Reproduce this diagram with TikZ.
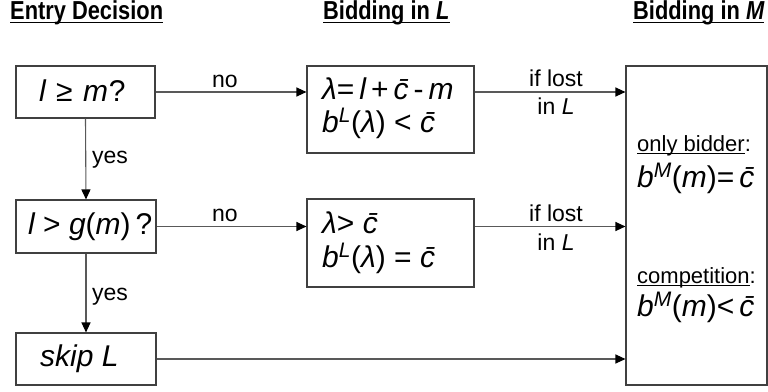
\documentclass[tikz,border=0pt]{standalone}
\usepackage{fontspec}
\setmainfont{Liberation Sans}
\newfontfamily\hdrfont[FakeStretch=0.84]{Liberation Sans}
\usetikzlibrary{arrows.meta}
\newcommand\cb{{\itshape\={c}}}
\newcommand\iv[1]{{\itshape #1}}
\newcommand\ulx[1]{\setbox0\hbox{#1}\rlap{\rule[-2.6pt]{\wd0}{1pt}}\box0}
\begin{document}
\begin{tikzpicture}[x=1pt,y=-1pt,
  box/.style={draw=black!75,line width=1.1pt,inner sep=0pt},
  conn/.style={draw=black!65,line width=1.1pt,-{Triangle[length=10pt,width=9pt,fill=black,color=black]}},
  body/.style={inner sep=0pt,font=\fontsize{30}{33}\selectfont},
  lab/.style={inner sep=0pt,font=\fontsize{23}{26}\selectfont},
  rlab/.style={inner sep=0pt,font=\fontsize{22}{25}\selectfont},
  hdr/.style={inner sep=0pt,anchor=base west,font=\hdrfont\bfseries\fontsize{26}{28}\selectfont},
  uline/.style={draw=black,line width=1.8pt}]
\path[use as bounding box] (0,0) rectangle (768,391);
% headers
\node[hdr] (h1) at (10,19) {Entry Decision};
\node[hdr] (h2) at (323,19) {Bidding in \iv{L}};
\node[hdr] (h3) at (633,19) {Bidding in \iv{M}};
\foreach \h in {h1,h2,h3}{\draw[uline] ([yshift=-3.5pt]\h.base west) -- ([yshift=-3.5pt]\h.base east);}
% boxes
\node[box,minimum width=139pt,minimum height=52pt] (b1) at (85.5,92) {};
\node[box,minimum width=140pt,minimum height=53pt] (b2) at (86,226.5) {};
\node[box,minimum width=140pt,minimum height=52pt] (b3) at (86,359) {};
\node[box,minimum width=167pt,minimum height=87pt] (bA) at (390.5,109.5) {};
\node[box,minimum width=167pt,minimum height=88pt] (bB) at (390.5,243) {};
\node[box,minimum width=141pt,minimum height=319pt] (R) at (696.5,225.5) {};
% box texts
\node[body,anchor=base west] (t1) at (39,101) {\iv{l}\kern2pt{} ≥\kern2pt{} \iv{m}\kern1pt?};
\node[body,anchor=base west] (t2) at (28,234) {\iv{l} > \iv{g}(\iv{m})\,?};
\node[body,anchor=base west] (t3) at (40,366) {\iv{skip L}};
\node[body,anchor=base west] (tA1) at (322,99) {\iv{λ}=\,\iv{l}\,+\,\cb\,-\,\iv{m}};
\node[body,anchor=base west] (tA2) at (322,132) {\iv{b}\textsuperscript{\iv{L}}(\iv{λ}) < \cb};
\node[body,anchor=base west] (tB1) at (322,233) {\iv{λ}> \cb};
\node[body,anchor=base west] (tB2) at (322,267) {\iv{b}\textsuperscript{\iv{L}}(\iv{λ}) = \cb};
\node[rlab,anchor=base west] (r1) at (637,151) {\ulx{only bidder}:};
\node[body,anchor=base west] (r2) at (637,187) {\iv{b}\textsuperscript{\iv{M}}(\iv{m})=\,\cb};
\node[rlab,anchor=base west] (r3) at (637,283) {\ulx{competition}:};
\node[body,anchor=base west] (r4) at (637,316) {\iv{b}\textsuperscript{\iv{M}}(\iv{m})<\,\cb};
% connectors
\draw[conn] (b1.east) -- (bA.west |- b1.east);
\draw[conn] (b2.east) -- (bB.west |- b2.east);
\draw[conn] (b3.east) -- (R.west |- b3.east);
\draw[conn] (bA.east |- b1.east) -- (R.west |- b1.east);
\draw[conn] (bB.east |- b2.east) -- (R.west |- b2.east);
\draw[conn] (b1.south) -- (b2.north);
\draw[conn] (b2.south) -- (b3.north);
% connector labels
\node[lab,anchor=base] (n1) at (225,87) {no};
\node[lab,anchor=base] (n2) at (225,221) {no};
\node[lab,anchor=west] (y1) at (92,160) {yes};
\node[lab,anchor=west] (y2) at (92,297) {yes};
\node[lab,anchor=base] (l1) at (556,86) {if lost};
\node[lab,anchor=base] (l2) at (556,114) {in \iv{L}};
\node[lab,anchor=base] (l3) at (556,221) {if lost};
\node[lab,anchor=base] (l4) at (556,250) {in \iv{L}};
\end{tikzpicture}
\end{document}
